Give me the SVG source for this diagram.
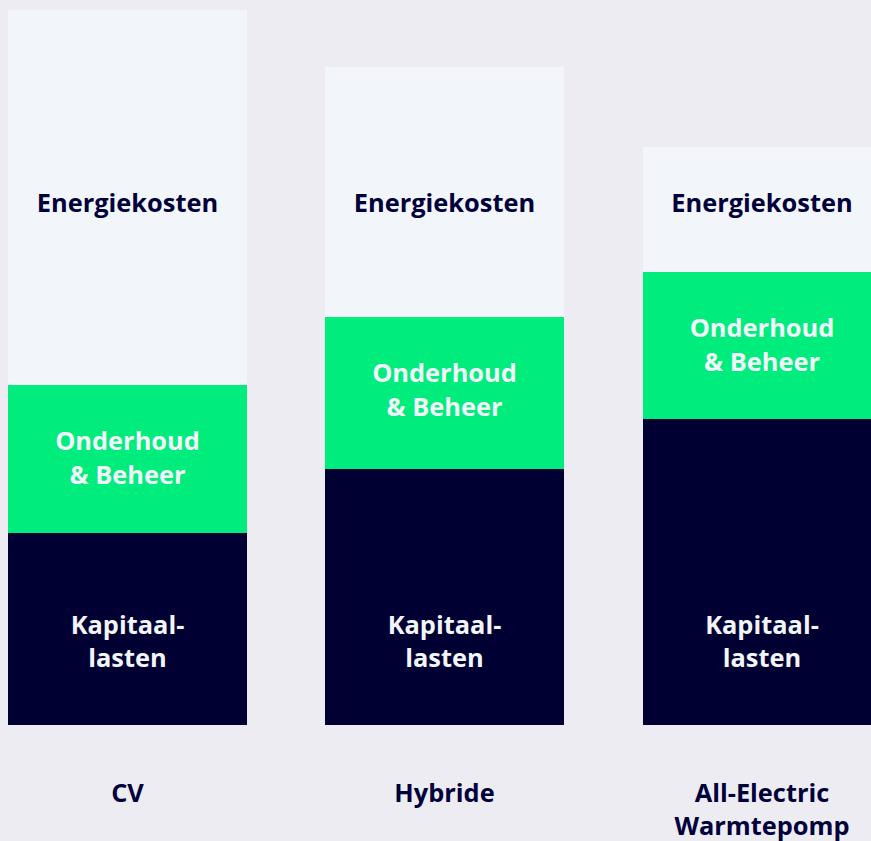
<svg xmlns="http://www.w3.org/2000/svg" width="871" height="841" viewBox="0 0 871 841">
<style>
.t{font-family:"Open Sans","Liberation Sans",sans-serif;font-weight:700;font-size:25.4px;text-anchor:middle}
.d{fill:#00003a}
.w{fill:#f2f5f9}
.e{fill:#f2f5f9}
.g{fill:#00ed7e}
.n{fill:#000033}
</style>
<rect width="871" height="841" fill="#edecf2"/>
<g id="cv">
<rect class="e" x="8" y="10" width="239" height="375"/>
<rect class="g" x="8" y="385" width="239" height="148"/>
<rect class="n" x="8" y="533" width="239" height="192"/>
<text class="t d" x="127.5" y="212">Energiekosten</text>
<text class="t w" x="127.5" y="450">Onderhoud</text>
<text class="t w" x="127.5" y="484">&amp; Beheer</text>
<text class="t w" x="127.5" y="634">Kapitaal-</text>
<text class="t w" x="127.5" y="667">lasten</text>
<text class="t d" x="127.5" y="802">CV</text>
</g>
<g id="hybride">
<rect class="e" x="325" y="67" width="239" height="250"/>
<rect class="g" x="325" y="317" width="239" height="152"/>
<rect class="n" x="325" y="469" width="239" height="256"/>
<text class="t d" x="444.5" y="212">Energiekosten</text>
<text class="t w" x="444.5" y="382">Onderhoud</text>
<text class="t w" x="444.5" y="416">&amp; Beheer</text>
<text class="t w" x="444.5" y="634">Kapitaal-</text>
<text class="t w" x="444.5" y="667">lasten</text>
<text class="t d" x="444.5" y="802">Hybride</text>
</g>
<g id="all-electric">
<rect class="e" x="643" y="147" width="239" height="125"/>
<rect class="g" x="643" y="272" width="239" height="147"/>
<rect class="n" x="643" y="419" width="239" height="306"/>
<text class="t d" x="762" y="212">Energiekosten</text>
<text class="t w" x="762" y="337">Onderhoud</text>
<text class="t w" x="762" y="371">&amp; Beheer</text>
<text class="t w" x="762" y="634">Kapitaal-</text>
<text class="t w" x="762" y="667">lasten</text>
<text class="t d" x="762" y="802">All-Electric</text>
<text class="t d" x="762" y="835">Warmtepomp</text>
</g>
<g id="connectors"/>
</svg>
